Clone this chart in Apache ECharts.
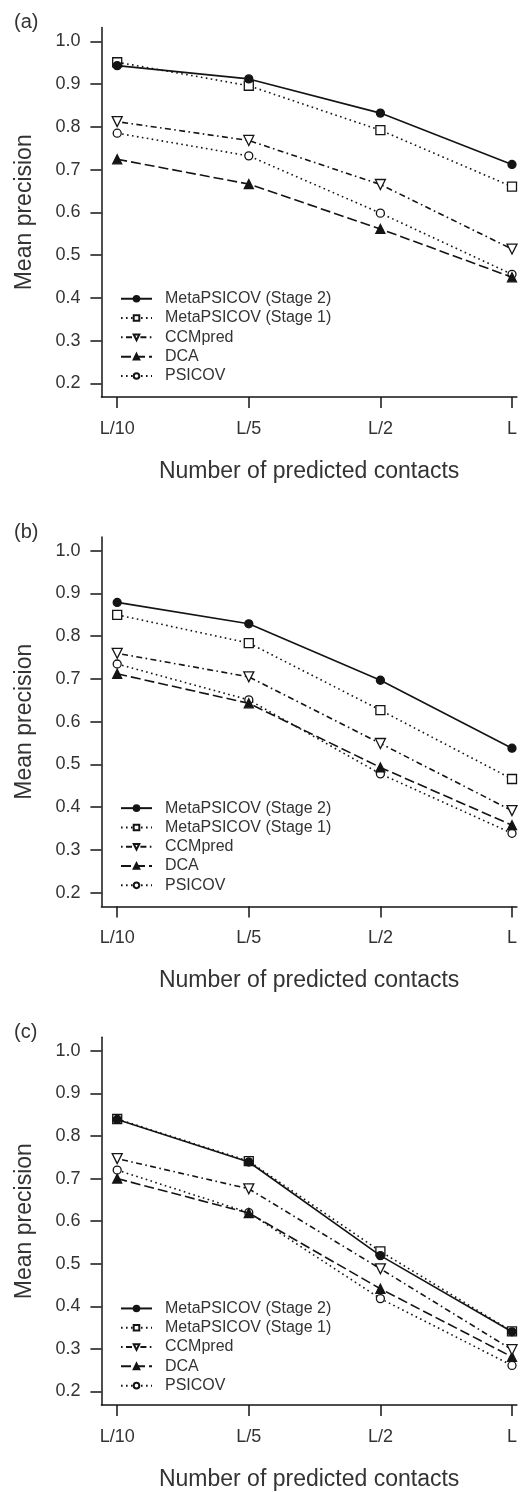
<!DOCTYPE html>
<html>
<head>
<meta charset="utf-8">
<script src="https://cdn.jsdelivr.net/npm/echarts@6/dist/echarts.min.js"></script>
<style>
  html, body { margin: 0; padding: 0; background: #fff; }
  #main { width: 520px; height: 1492px; }
</style>
</head>
<body>
<div id="main"></div>
<script>
// x categories and y ticks
var categories = ["L/10", "L/5", "L/2", "L"];
var yTicks = [0.2, 0.3, 0.4, 0.5, 0.6, 0.7, 0.8, 0.9, 1.0];
var panelLabels = ["(a)", "(b)", "(c)"];
var methods = ["MetaPSICOV (Stage 2)", "MetaPSICOV (Stage 1)", "CCMpred", "DCA", "PSICOV"];

// panel (a)
var aStage2 = [0.943, 0.912, 0.832, 0.712];
var aStage1 = [0.951, 0.896, 0.792, 0.660];
var aCCMpred = [0.812, 0.768, 0.665, 0.514];
var aDCA = [0.724, 0.666, 0.561, 0.448];
var aPSICOV = [0.785, 0.732, 0.598, 0.455];

// panel (b)
var bStage2 = [0.879, 0.829, 0.697, 0.538];
var bStage1 = [0.850, 0.784, 0.627, 0.466];
var bCCMpred = [0.760, 0.705, 0.549, 0.392];
var bDCA = [0.712, 0.643, 0.493, 0.358];
var bPSICOV = [0.735, 0.651, 0.478, 0.339];

// panel (c)
var cStage2 = [0.839, 0.739, 0.519, 0.340];
var cStage1 = [0.840, 0.741, 0.529, 0.341];
var cCCMpred = [0.747, 0.676, 0.488, 0.298];
var cDCA = [0.700, 0.619, 0.441, 0.281];
var cPSICOV = [0.720, 0.620, 0.418, 0.261];

var panels = [
  [aStage2, aStage1, aCCMpred, aDCA, aPSICOV],
  [bStage2, bStage1, bCCMpred, bDCA, bPSICOV],
  [cStage2, cStage1, cCCMpred, cDCA, cPSICOV]
];

var font = "'Liberation Sans', Arial, Helvetica, sans-serif";
var ink = "#141414";
var textInk = "#333";

// line / marker look for each method
var looks = [
  { symbol: "circle", size: 8, rotate: 0, fill: ink, dash: "solid" },
  { symbol: "rect", size: 9, rotate: 0, fill: "#fff", dash: [1.6, 3.4] },
  { symbol: "triangle", size: 10, rotate: 180, fill: "#fff", dash: [1.6, 3.4, 6, 3.4] },
  { symbol: "triangle", size: 9, rotate: 0, fill: ink, dash: [10, 4] },
  { symbol: "circle", size: 8, rotate: 0, fill: "#fff", dash: [1.6, 3.4] }
];

var gridTops = [27.6, 537, 1037.3];
var plotH = 369.4;

var grids = [], xAxes = [], yAxes = [], series = [], legends = [], graphics = [];

gridTops.forEach(function (top, p) {
  // the right side of the R plot is cropped at the page edge
  grids.push({ left: 101.4, top: top, right: 0, height: plotH });

  xAxes.push({
    type: "value",
    gridIndex: p,
    min: 0.88,
    max: 4.037,
    name: "Number of predicted contacts",
    nameLocation: "middle",
    nameGap: 63,
    nameTextStyle: { fontFamily: font, fontSize: 23, color: textInk },
    splitLine: { show: false },
    axisLine: { lineStyle: { color: ink, width: 1.5 } },
    axisTick: { customValues: [1, 2, 3, 4], length: 11, lineStyle: { color: ink, width: 1.5 } },
    axisLabel: {
      customValues: [1, 2, 3, 4],
      margin: 23,
      fontFamily: font,
      fontSize: 18,
      color: textInk,
      formatter: function (v) { return categories[Math.round(v) - 1]; }
    }
  });

  yAxes.push({
    type: "value",
    gridIndex: p,
    min: 0.168,
    max: 1.032,
    name: "Mean precision",
    nameLocation: "middle",
    nameGap: 65,
    nameTextStyle: { fontFamily: font, fontSize: 23, color: textInk },
    splitLine: { show: false },
    axisLine: { show: true, lineStyle: { color: ink, width: 1.5 } },
    axisTick: { show: true, customValues: yTicks, length: 11, lineStyle: { color: ink, width: 1.5 } },
    axisLabel: {
      customValues: yTicks,
      margin: 21,
      fontFamily: font,
      fontSize: 18,
      color: textInk,
      formatter: function (v) { return v.toFixed(1); }
    }
  });

  panels[p].forEach(function (vals, m) {
    var lk = looks[m];
    series.push({
      name: methods[m],
      type: "line",
      xAxisIndex: p,
      yAxisIndex: p,
      data: vals.map(function (v, i) { return [i + 1, v]; }),
      symbol: lk.symbol,
      symbolSize: lk.size,
      symbolRotate: lk.rotate,
      showAllSymbol: true,
      clip: false,
      lineStyle: { color: ink, width: 1.6, type: lk.dash },
      itemStyle: { color: lk.fill, borderColor: ink, borderWidth: 1.3 },
      emphasis: { disabled: true },
      animation: false,
      z: 10 - m
    });
  });

  legends.push({
    orient: "vertical",
    left: 120,
    top: top + 261.5,
    padding: 0,
    itemWidth: 31,
    itemHeight: 7,
    itemGap: 0,
    selectedMode: false,
    data: methods,
    textStyle: { fontFamily: font, fontSize: 16, lineHeight: 19.3, color: textInk, padding: [0, 0, 0, 8] }
  });

  graphics.push({
    type: "text",
    left: 14,
    top: top - 15,
    style: { text: panelLabels[p], font: "20px " + font, fill: textInk }
  });
});

var chart = echarts.init(document.getElementById("main"));
chart.setOption({
  backgroundColor: "#fff",
  animation: false,
  grid: grids,
  xAxis: xAxes,
  yAxis: yAxes,
  legend: legends,
  series: series,
  graphic: graphics
});
</script>
</body>
</html>
